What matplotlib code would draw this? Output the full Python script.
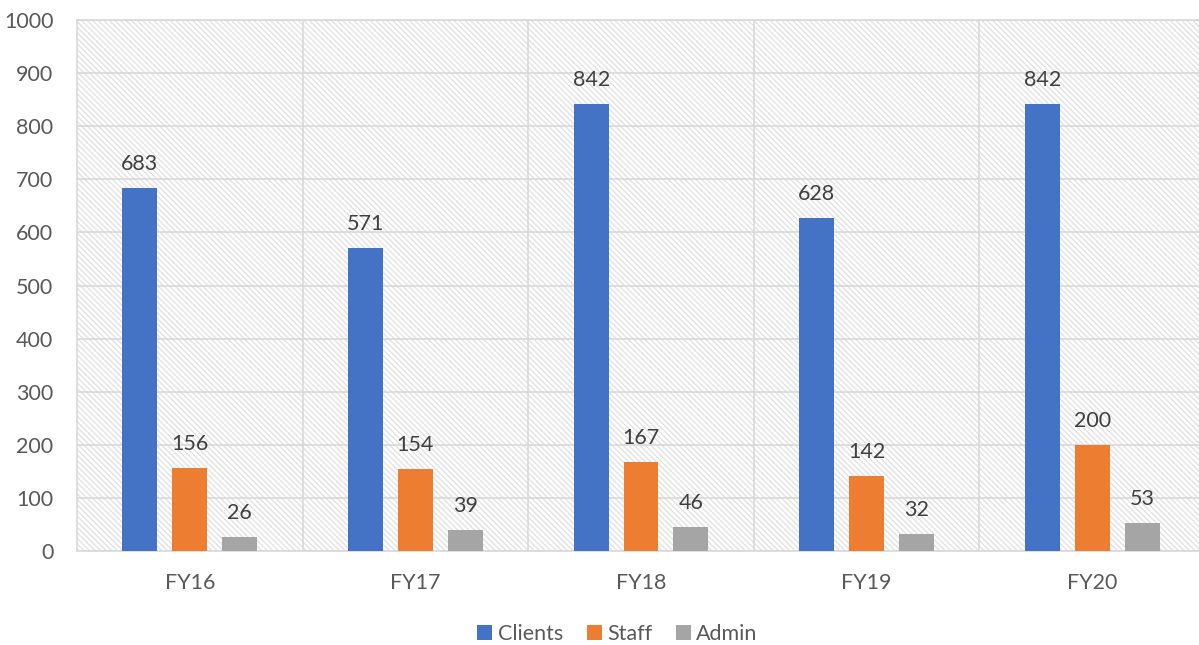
import matplotlib
matplotlib.use("Agg")
import matplotlib.pyplot as plt
import numpy as np
from matplotlib.patches import Rectangle

categories = ["FY16", "FY17", "FY18", "FY19", "FY20"]
series_names = ["Clients", "Staff", "Admin"]
clients = [683, 571, 842, 628, 842]
staff = [156, 154, 167, 142, 200]
admin = [26, 39, 46, 32, 53]
yticks = [0, 100, 200, 300, 400, 500, 600, 700, 800, 900, 1000]

colors = ["#4472C4", "#ED7D31", "#A5A5A5"]
grid_c = "#d9d9d9"

plt.rcParams['font.family'] = ['Lato', 'DejaVu Sans']
plt.rcParams['hatch.color'] = '#e0e0e0'
plt.rcParams['hatch.linewidth'] = 0.9

W, H = 1199, 645
fig = plt.figure(figsize=(W/100, H/100), dpi=100)
left, right, top, bottom = 77, 1205, 20, 551
ax = fig.add_axes([left/W, (H-bottom)/H, (right-left)/W, (bottom-top)/H])

ax.set_xlim(-0.5, 4.5)
ax.set_ylim(0, 1000)

bg = Rectangle((0, 0), 1, 1, transform=ax.transAxes, facecolor='white',
               hatch='\\' * 6, edgecolor='#e0e0e0', linewidth=0, zorder=0)
ax.add_patch(bg)

for y in yticks:
    ax.axhline(y, color=grid_c, lw=1.2, zorder=1)
for b in np.arange(0.5, 4.5, 1.0):
    ax.axvline(b, color=grid_c, lw=1.2, zorder=1)

x = np.arange(len(categories))
width = 0.155
offset = 0.221
data = [clients, staff, admin]
for i, (vals, name, c) in enumerate(zip(data, series_names, colors)):
    xs = x + (i - 1) * offset
    ax.bar(xs, vals, width, color=c, label=name, zorder=3)
    for xi, v in zip(xs, vals):
        ax.annotate(str(v), (xi, v), xytext=(0, 10), textcoords='offset points',
                    ha='center', va='bottom', fontsize=15.5, color='#404040', zorder=4)

for s in ax.spines.values():
    s.set_color(grid_c)
    s.set_linewidth(1.2)

ax.set_yticks(yticks)
ax.set_xticks(x)
ax.set_xticklabels(categories)
ax.tick_params(axis='both', length=0, labelsize=15.5, colors='#595959')
ax.tick_params(axis='x', pad=16)
ax.tick_params(axis='y', pad=17)

leg = fig.legend(loc='center', bbox_to_anchor=(0.515, 1 - 634/H), ncol=3, frameon=False,
                 fontsize=15.5, handlelength=0.7, handleheight=0.7, handletextpad=0.25,
                 columnspacing=1.1)
for t in leg.get_texts():
    t.set_color('#595959')

fig.savefig("out.png", dpi=100)
